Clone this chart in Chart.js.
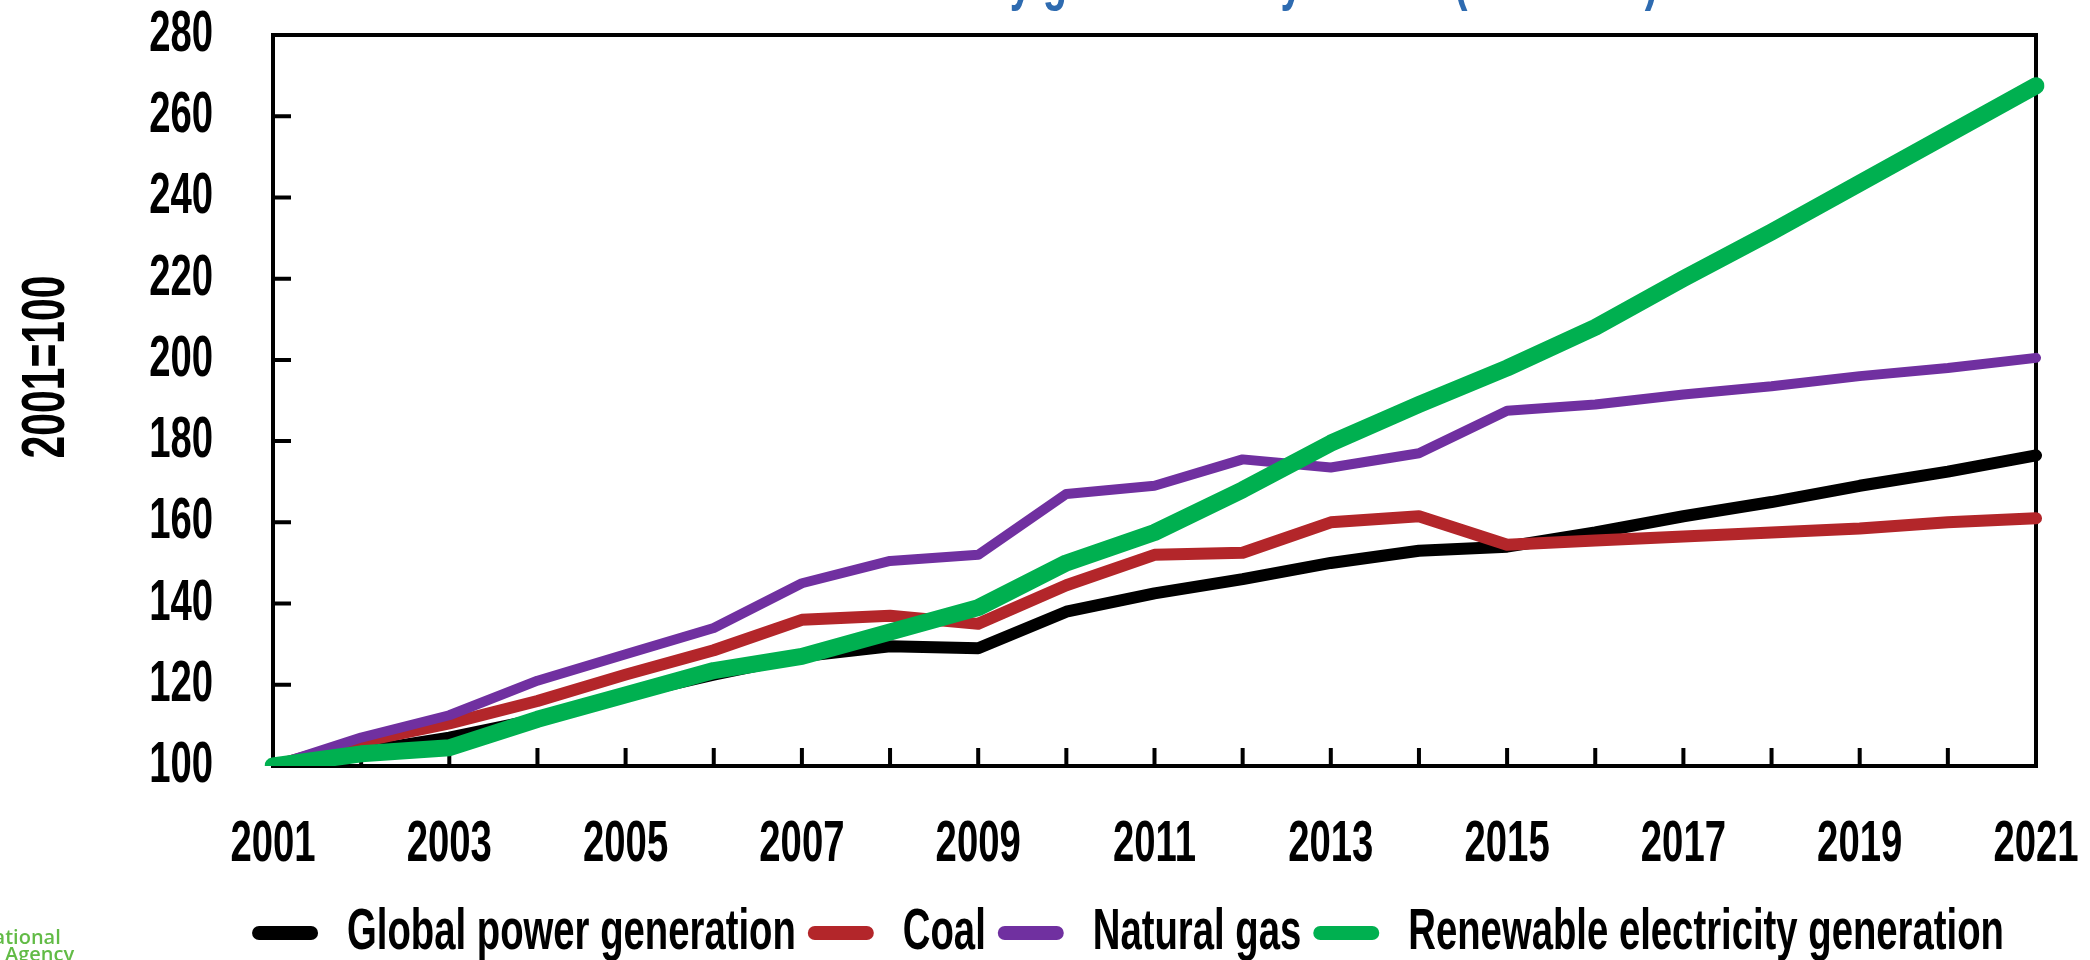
<!DOCTYPE html>
<html lang="en">
<head>
    <meta charset="UTF-8">
    <title>Electricity generation by source (2001=100)</title>
    <script src="https://cdn.jsdelivr.net/npm/chart.js"></script>
    <style>
        html, body { margin: 0; padding: 0; background: #fff; }
        #wrap { width: 2090px; height: 960px; position: relative; }
    </style>
</head>
<body>

    <div id="wrap"><canvas id="genChart"></canvas></div>

    <script>
        // data, 2001 = 100
        const years = ["2001", "2002", "2003", "2004", "2005", "2006", "2007", "2008", "2009", "2010",
                       "2011", "2012", "2013", "2014", "2015", "2016", "2017", "2018", "2019", "2020", "2021"];
        const globalPower = [100, 103.5, 107, 111.5, 117.5, 122.5, 127, 129.5, 129, 138, 142.5, 146, 150, 153, 154, 157.5, 161.5, 165, 169, 172.5, 176.5];
        const coal = [100, 106, 110.5, 116, 122.5, 128.5, 136, 137, 135, 144.5, 152, 152.5, 160, 161.5, 154.5, 155.5, 156.5, 157.5, 158.5, 160, 161];
        const naturalGas = [100, 107, 112.5, 121, 127.5, 134, 145, 150.5, 152, 167, 169, 175.5, 173.5, 177, 187.5, 189, 191.5, 193.5, 196, 198, 200.5];
        const renewables = [100, 103, 104.5, 111.5, 117.5, 123.5, 127, 133, 139, 150, 157.5, 168, 179.5, 189, 198, 208, 220, 231.5, 243.5, 255.5, 267.5];
        const seriesNames = ["Global power generation", "Coal", "Natural gas", "Renewable electricity generation"];
        const yTicks = { min: 100, max: 280, step: 20 };
        const titleText = "Growth in electricity generation by source (2001=100)";
        const yTitle = "2001=100";

        const FONT = "'Liberation Sans', Arial, sans-serif";
        Chart.defaults.font.family = FONT;
        Chart.defaults.font.weight = "bold";
        Chart.defaults.color = "#000";

        const canvas = document.getElementById("genChart");
        const ctx = canvas.getContext("2d");

        // no condensed face is installed, so squeeze the text horizontally
        // (measuring is squeezed the same way so the layout stays right)
        const SX = 0.66;
        const plainFill = ctx.fillText.bind(ctx);
        const plainMeasure = ctx.measureText.bind(ctx);
        ctx.fillText = function (text, x, y, maxWidth) {
            this.save();
            this.translate(x, y);
            this.scale(SX, 1);
            if (maxWidth !== undefined) plainFill(text, 0, 0, maxWidth / SX);
            else plainFill(text, 0, 0);
            this.restore();
        };
        ctx.measureText = function (text) {
            const m = plainMeasure(text);
            return {
                width: m.width * SX,
                actualBoundingBoxLeft: m.actualBoundingBoxLeft * SX,
                actualBoundingBoxRight: m.actualBoundingBoxRight * SX,
                actualBoundingBoxAscent: m.actualBoundingBoxAscent,
                actualBoundingBoxDescent: m.actualBoundingBoxDescent,
                fontBoundingBoxAscent: m.fontBoundingBoxAscent,
                fontBoundingBoxDescent: m.fontBoundingBoxDescent
            };
        };

        // frame, inside tick marks, cut-off title, axis title and logo text
        const decorations = {
            id: "decorations",
            afterLayout(chart) {
                // the legend row in the reference is centred near x = 1128
                chart.legend.left += 110;
                chart.legend.right += 110;
            },
            beforeDatasetsDraw(chart) {
                const { ctx, chartArea: a, scales } = chart;
                ctx.save();
                ctx.strokeStyle = "#000";
                ctx.lineWidth = 4;
                ctx.strokeRect(a.left, a.top, a.right - a.left, a.bottom - a.top);
                ctx.beginPath();
                scales.y.ticks.forEach(t => {
                    const py = scales.y.getPixelForValue(t.value);
                    ctx.moveTo(a.left, py);
                    ctx.lineTo(a.left + 18, py);
                });
                years.forEach((y, i) => {
                    const px = scales.x.getPixelForValue(i);
                    ctx.moveTo(px, a.bottom);
                    ctx.lineTo(px, a.bottom - 18);
                });
                ctx.stroke();
                ctx.restore();
            },
            afterDraw(chart) {
                const { ctx, chartArea: a } = chart;
                ctx.save();
                // title, mostly above the top of the picture
                ctx.fillStyle = "#2e6bb0";
                ctx.font = "bold 60px " + FONT;
                ctx.textAlign = "center";
                ctx.textBaseline = "alphabetic";
                ctx.fillText(titleText, (a.left + a.right) / 2, -1);
                // y axis title
                ctx.fillStyle = "#000";
                ctx.font = "bold 62px " + FONT;
                ctx.translate(47, 367);
                ctx.rotate(-Math.PI / 2);
                ctx.textBaseline = "middle";
                ctx.fillText(yTitle, 0, 0);
                ctx.restore();
                // agency logo text, cut at the left edge
                ctx.save();
                ctx.fillStyle = "#62bb46";
                ctx.font = "600 20px 'Open Sans', sans-serif";
                ctx.textAlign = "left";
                plainFill("International", -66, 938);
                plainFill("Energy Agency", -66, 955);
                ctx.restore();
            }
        };

        const colors = ["#000000", "#b3262a", "#7030a0", "#00b050"];
        const widths = [12, 12, 10, 17];
        const values = [globalPower, coal, naturalGas, renewables];

        // invisible outer tick marks: they only make the gap between labels and axes
        const hiddenTicks = len => ({
            display: true,
            drawOnChartArea: false,
            drawTicks: true,
            tickLength: len,
            color: "rgba(0,0,0,0)"
        });

        const chart = new Chart(ctx, {
            type: "line",
            data: {
                labels: years,
                datasets: values.map((v, i) => ({
                    label: seriesNames[i],
                    data: v,
                    borderColor: colors[i],
                    backgroundColor: colors[i],
                    borderWidth: widths[i],
                    borderCapStyle: "round",
                    borderJoinStyle: "round",
                    pointRadius: 0,
                    tension: 0,
                    fill: false,
                    order: 4 - i   // green drawn on top, black underneath
                }))
            },
            options: {
                responsive: true,
                maintainAspectRatio: false,
                animation: false,
                layout: { padding: { top: 35, right: 54, bottom: -12, left: 0 } },
                plugins: {
                    tooltip: { enabled: false },
                    legend: {
                        position: "bottom",
                        labels: {
                            sort: (a, b) => a.datasetIndex - b.datasetIndex,
                            boxWidth: 66,
                            boxHeight: 14,
                            useBorderRadius: true,
                            borderRadius: 7,
                            padding: 12,
                            font: { size: 58, weight: "bold" },
                            generateLabels(chart) {
                                return chart.data.datasets.map((d, i) => ({
                                    text: d.label,
                                    fillStyle: d.borderColor,
                                    strokeStyle: d.borderColor,
                                    lineWidth: 0,
                                    borderRadius: 7,
                                    datasetIndex: i,
                                    hidden: false
                                }));
                            }
                        }
                    }
                },
                scales: {
                    x: {
                        type: "category",
                        offset: false,
                        grid: hiddenTicks(44),
                        border: { display: false },
                        ticks: {
                            autoSkip: false,
                            maxRotation: 0,
                            padding: 0,
                            font: { size: 58 },
                            callback: function (val, idx) {
                                return idx % 2 === 0 ? this.getLabelForValue(val) : "";
                            }
                        },
                        afterFit: s => { s.height = 126; }
                    },
                    y: {
                        min: yTicks.min,
                        max: yTicks.max,
                        grid: hiddenTicks(60),
                        border: { display: false },
                        ticks: { stepSize: yTicks.step, padding: 0, font: { size: 58 } },
                        afterFit: s => { s.width = 273; }
                    }
                }
            },
            plugins: [decorations]
        });
    </script>

</body>
</html>
